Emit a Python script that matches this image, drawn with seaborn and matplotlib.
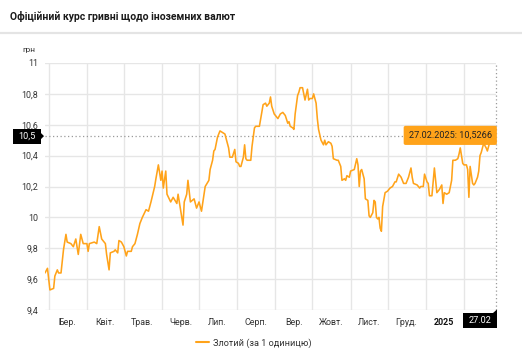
import matplotlib
matplotlib.use("Agg")
import matplotlib.pyplot as plt
import matplotlib.dates as mdates
import matplotlib.ticker as mticker
from matplotlib.lines import Line2D
from matplotlib.patches import Rectangle, Polygon
import numpy as np
import pandas as pd
import seaborn as sns

# ---- data -------------------------------------------------------------
title = "Офіційний курс гривні щодо іноземних валют"
unit = "грн"
currency = "Злотий (за 1 одиницю)"
start_date = "2024-02-27"

# days since start_date
day = [0, 2, 4, 7, 8, 10, 11, 13, 15, 17, 18, 21, 23, 25, 27, 29, 31, 34, 35, 36,
       40, 42, 44, 46, 49, 50, 52, 53, 56, 57, 59, 60, 62, 64, 66, 67, 70, 71, 73, 75,
       77, 79, 82, 84, 86, 89, 90, 92, 94, 95, 96, 98, 99, 102, 104, 107, 108, 110, 112, 113,
       115, 116, 118, 121, 123, 125, 127, 129, 130, 133, 134, 136, 137, 138, 140, 142, 144, 146, 149, 150,
       152, 154, 155, 157, 158, 159, 161, 162, 163, 164, 167, 168, 170, 171, 174, 177, 179, 180, 182, 183,
       184, 186, 187, 189, 191, 193, 195, 197, 198, 199, 201, 202, 203, 205, 206, 207, 209, 210, 211, 213,
       214, 215, 217, 218, 220, 221, 222, 224, 226, 227, 228, 230, 232, 233, 234, 237, 238, 240, 241, 243,
       244, 245, 247, 248, 251, 253, 254, 255, 256, 257, 259, 260, 262, 263, 264, 266, 267, 268, 269, 270,
       271, 272, 273, 274, 276, 278, 280, 282, 284, 285, 287, 289, 291, 293, 295, 297, 298, 299, 302, 304,
       305, 307, 308, 310, 311, 312, 314, 316, 317, 318, 320, 322, 323, 324, 326, 328, 330, 331, 333, 335,
       336, 337, 339, 340, 342, 343, 344, 345, 347, 348, 349, 351, 352, 353, 354, 356, 358, 359, 361, 363,
       364, 365, 366]

# PLN/UAH official rate
rate = [9.64, 9.67, 9.53, 9.54, 9.62, 9.66, 9.64, 9.64, 9.79, 9.89, 9.84, 9.83, 9.81, 9.86, 9.76, 9.89, 9.83, 9.83, 9.78, 9.83,
        9.84, 9.83, 9.94, 9.86, 9.83, 9.76, 9.66, 9.77, 9.78, 9.79, 9.77, 9.85, 9.84, 9.81, 9.75, 9.78, 9.78, 9.81, 9.83, 9.89,
        9.96, 10.00, 10.05, 10.04, 10.10, 10.20, 10.25, 10.34, 10.24, 10.30, 10.19, 10.30, 10.15, 10.10, 10.13, 10.09, 10.15, 10.05, 9.95, 10.10,
        10.15, 10.24, 10.10, 10.12, 10.06, 10.10, 10.04, 10.15, 10.20, 10.24, 10.31, 10.37, 10.43, 10.44, 10.52, 10.56, 10.55, 10.54, 10.45, 10.39,
        10.39, 10.44, 10.36, 10.35, 10.33, 10.33, 10.39, 10.47, 10.38, 10.37, 10.37, 10.46, 10.58, 10.59, 10.59, 10.73, 10.74, 10.72, 10.74, 10.78,
        10.72, 10.67, 10.66, 10.64, 10.67, 10.68, 10.66, 10.61, 10.62, 10.59, 10.58, 10.57, 10.67, 10.79, 10.81, 10.84, 10.84, 10.80, 10.76, 10.83,
        10.76, 10.77, 10.77, 10.80, 10.74, 10.64, 10.57, 10.50, 10.47, 10.50, 10.47, 10.49, 10.48, 10.46, 10.38, 10.37, 10.37, 10.33, 10.24, 10.25,
        10.24, 10.27, 10.26, 10.30, 10.31, 10.38, 10.34, 10.20, 10.30, 10.31, 10.25, 10.12, 10.11, 10.01, 10.00, 10.03, 10.11, 10.10, 10.00, 9.99,
        10.00, 9.93, 9.91, 10.07, 10.16, 10.17, 10.19, 10.20, 10.23, 10.23, 10.28, 10.26, 10.22, 10.22, 10.26, 10.32, 10.26, 10.22, 10.21, 10.19,
        10.20, 10.20, 10.28, 10.23, 10.22, 10.14, 10.14, 10.32, 10.24, 10.16, 10.18, 10.21, 10.09, 10.16, 10.15, 10.16, 10.24, 10.37, 10.37, 10.38,
        10.41, 10.45, 10.35, 10.34, 10.34, 10.31, 10.13, 10.33, 10.22, 10.21, 10.22, 10.26, 10.30, 10.40, 10.42, 10.48, 10.45, 10.43, 10.49, 10.53,
        10.49, 10.57, 10.5266]

month_labels = ["Бер.", "Квіт.", "Трав.", "Черв.", "Лип.", "Серп.", "Вер.",
                "Жовт.", "Лист.", "Груд.", "2025"]
month_label_dates = ["2024-03-16", "2024-04-16", "2024-05-16", "2024-06-16",
                     "2024-07-16", "2024-08-16", "2024-09-16", "2024-10-16",
                     "2024-11-16", "2024-12-16", "2025-01-16"]
y_ticks = [9.4, 9.6, 9.8, 10.0, 10.2, 10.4, 10.6, 10.8, 11.0]

# ---- style ------------------------------------------------------------
LINE = "#FFA31A"
GRID = "#e6e6e6"
TEXT = "#333333"
W, H = 522, 350

sns.set_theme(style="white")
plt.rcParams["font.family"] = ["Roboto", "DejaVu Sans"]


def fx(x):
    return x / W


def fy(y):
    return 1 - y / H


def comma(v, nd=None):
    s = f"{v:.{nd}f}" if nd is not None else f"{v:.1f}".rstrip("0").rstrip(".")
    return s.replace(".", ",")


df = pd.DataFrame({
    "date": pd.Timestamp(start_date) + pd.to_timedelta(day, unit="D"),
    "rate": rate,
})
last_date = df["date"].iloc[-1]
last_rate = df["rate"].iloc[-1]

fig = plt.figure(figsize=(W / 100, H / 100), dpi=100)
ax = fig.add_axes([fx(45), fy(310), (496 - 45) / W, (310 - 63) / H])

sns.lineplot(data=df, x="date", y="rate", color=LINE, linewidth=1.15,
             ax=ax, legend=False, zorder=3)

ax.set_xlim(df["date"].iloc[0], last_date)
ax.set_ylim(9.4, 11.0)
ax.set_xlabel("")
ax.set_ylabel("")
for s in ax.spines.values():
    s.set_visible(False)

# y axis
ax.set_yticks(y_ticks)
ax.yaxis.set_major_formatter(mticker.FuncFormatter(lambda v, p: comma(v)))
ax.tick_params(axis="y", length=0, pad=5, labelsize=6.4, labelcolor=TEXT)
ax.grid(axis="y", color=GRID, linewidth=1.0, zorder=0)

# x axis: grid at month starts, labels mid-month
ax.xaxis.set_major_locator(mdates.MonthLocator(bymonthday=1))
ax.xaxis.set_major_formatter(mticker.NullFormatter())
ax.set_xticks(pd.to_datetime(month_label_dates), minor=True)
ax.set_xticklabels(month_labels, minor=True)
ax.tick_params(axis="x", which="both", length=0, pad=6, labelsize=6.4,
               labelcolor=TEXT)
ax.grid(axis="x", which="major", color=GRID, linewidth=1.0, zorder=0)
for lbl in ax.get_xticklabels(minor=True):
    if lbl.get_text() == "2025":
        lbl.set_fontweight("bold")
        lbl.set_color("#111111")

# crosshair on the last value
ax.axhline(last_rate, color="#9a9a9a", linestyle=(0, (1, 2)), linewidth=0.9,
           zorder=2)
ax.axvline(last_date, color="#9a9a9a", linestyle=(0, (1, 2)), linewidth=0.9,
           zorder=2, clip_on=False)

# tooltip with last value
ax.annotate(f"{last_date:%d.%m.%Y}: {comma(last_rate, 4)}",
            xy=(last_date, last_rate), xytext=(-3, 0.5),
            textcoords="offset points", ha="right", va="center",
            fontsize=6.6, color="#222222", zorder=5, annotation_clip=False,
            bbox=dict(boxstyle="round,pad=0.55,rounding_size=0.2",
                      fc=LINE, ec="none"))

# black marker labels on the axes
y_px = H - ax.transData.transform((0, last_rate))[1]
fig.patches.append(Rectangle((fx(13), fy(y_px + 7.5)), 28 / W, 15 / H,
                             transform=fig.transFigure, fc="#000000",
                             ec="none", zorder=6))
fig.patches.append(Polygon([(fx(41), fy(y_px - 3)), (fx(44), fy(y_px)),
                            (fx(41), fy(y_px + 3))],
                           transform=fig.transFigure, fc="#000000",
                           ec="none", zorder=6))
fig.text(fx(27), fy(y_px), comma(last_rate, 1), color="white", fontsize=6.6,
         ha="center", va="center", zorder=7)

fig.patches.append(Rectangle((fx(463), fy(328)), 34 / W, 15 / H,
                             transform=fig.transFigure, fc="#000000",
                             ec="none", zorder=6))
fig.patches.append(Polygon([(fx(493), fy(313)), (fx(497), fy(309.5)),
                            (fx(497), fy(313))],
                           transform=fig.transFigure, fc="#000000",
                           ec="none", zorder=6))
fig.text(fx(480), fy(320.5), f"{last_date:%d.%m}", color="white",
         fontsize=6.6, ha="center", va="center", zorder=7)

# header
fig.text(fx(10), fy(17), title, fontsize=7.5, fontweight="bold",
         color="#1a1a1a", ha="left", va="center")
fig.add_artist(Line2D([0, 1], [fy(33), fy(33)], transform=fig.transFigure,
                      color="#e4e4e4", linewidth=1.6))
fig.text(fx(22), fy(50), unit, fontsize=6.0, color=TEXT, ha="left",
         va="center")

# legend
fig.legend(handles=[Line2D([], [], color=LINE, linewidth=1.5)],
           labels=[currency], loc="center", bbox_to_anchor=(fx(254), fy(343)),
           frameon=False, fontsize=6.6, handlelength=1.4, handletextpad=0.5,
           labelcolor=TEXT)

fig.savefig("out.png", dpi=100)
